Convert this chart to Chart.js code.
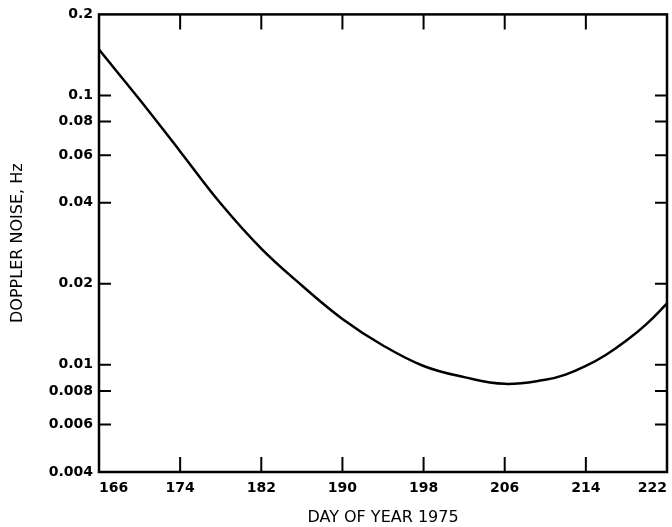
<!DOCTYPE html>
<html>
<head>
<meta charset="utf-8">
<script src="https://cdn.jsdelivr.net/npm/chart.js@4/dist/chart.umd.min.js"></script>
<style>
  html, body { margin: 0; padding: 0; background: #fff; }
  #chart { display: block; }
</style>
</head>
<body>
<canvas id="chart" width="672" height="527"></canvas>
<script>
// values (log y axis)
const days = [166, 170, 174, 178, 182, 186, 190, 194, 198, 202, 206, 210, 212, 214, 216, 218, 220, 222];
const noise = [0.148, 0.0966, 0.062, 0.0397, 0.027, 0.0197, 0.0148, 0.0118, 0.0099, 0.0090, 0.0085, 0.0088, 0.0092, 0.0099, 0.0109, 0.0123, 0.0142, 0.0169];

const xTicks = [166, 174, 182, 190, 198, 206, 214, 222];
const yTicks = [0.004, 0.006, 0.008, 0.01, 0.02, 0.04, 0.06, 0.08, 0.1, 0.2];
const yTickLabels = ['0.004', '0.006', '0.008', '0.01', '0.02', '0.04', '0.06', '0.08', '0.1', '0.2'];
const rightTicks = [0.006, 0.008, 0.01, 0.02, 0.04, 0.06, 0.08, 0.1];

const fontFam = "'DejaVu Sans', sans-serif";

// frame + inward tick marks
const framePlugin = {
    id: 'frame',
    afterDraw(chart) {
        const ctx = chart.ctx;
        const a = chart.chartArea;
        const xs = chart.scales.x;
        const ys = chart.scales.y;
        ctx.save();
        ctx.strokeStyle = '#000';
        ctx.lineWidth = 2.5;
        ctx.strokeRect(a.left, a.top, a.right - a.left, a.bottom - a.top);
        ctx.lineWidth = 2;
        ctx.beginPath();
        xTicks.slice(1, -1).forEach(v => {
            const px = xs.getPixelForValue(v);
            ctx.moveTo(px, a.top); ctx.lineTo(px, a.top + 15);
            ctx.moveTo(px, a.bottom); ctx.lineTo(px, a.bottom - 15);
        });
        yTicks.slice(1, -1).forEach(v => {
            const py = ys.getPixelForValue(v);
            ctx.moveTo(a.left, py); ctx.lineTo(a.left + 12, py);
        });
        rightTicks.forEach(v => {
            const py = ys.getPixelForValue(v);
            ctx.moveTo(a.right, py); ctx.lineTo(a.right - 12, py);
        });
        ctx.stroke();
        ctx.restore();
    }
};

const chart = new Chart(document.getElementById('chart'), {
    type: 'line',
    data: {
        datasets: [{
            data: days.map((d, i) => ({x: d, y: noise[i]})),
            borderColor: '#000',
            borderWidth: 2.5,
            pointRadius: 0,
            tension: 0.4,
            fill: false
        }]
    },
    options: {
        responsive: false,
        animation: false,
        layout: { padding: { top: 13, right: 5, left: 0, bottom: 0 } },
        plugins: { legend: { display: false }, tooltip: { enabled: false } },
        scales: {
            x: {
                type: 'linear',
                min: 166,
                max: 222,
                afterBuildTicks: s => { s.ticks = xTicks.map(v => ({value: v})); },
                afterFit: s => { s.height = 55; s.paddingLeft = 0; s.paddingRight = 0; },
                grid: { display: false, drawTicks: false },
                border: { display: false },
                ticks: {
                    align: 'inner',
                    padding: 8,
                    color: '#000',
                    font: { family: fontFam, size: 14, weight: 'bold' },
                    callback: v => String(v)
                },
                title: {
                    display: true,
                    text: 'DAY OF YEAR 1975',
                    color: '#000',
                    padding: { top: 0, bottom: 0 },
                    font: { family: fontFam, size: 16 }
                }
            },
            y: {
                type: 'logarithmic',
                min: 0.004,
                max: 0.2,
                afterBuildTicks: s => { s.ticks = yTicks.map(v => ({value: v})); },
                afterFit: s => { s.width = 99; },
                grid: { display: false, drawTicks: false },
                border: { display: false },
                ticks: {
                    padding: 6,
                    color: '#000',
                    font: { family: fontFam, size: 14, weight: 'bold' },
                    callback: (v, i) => yTickLabels[i]
                },
                title: {
                    display: true,
                    text: 'DOPPLER NOISE, Hz',
                    color: '#000',
                    padding: { top: 8, bottom: 0 },
                    font: { family: fontFam, size: 16 }
                }
            }
        }
    },
    plugins: [framePlugin]
});
</script>
</body>
</html>
